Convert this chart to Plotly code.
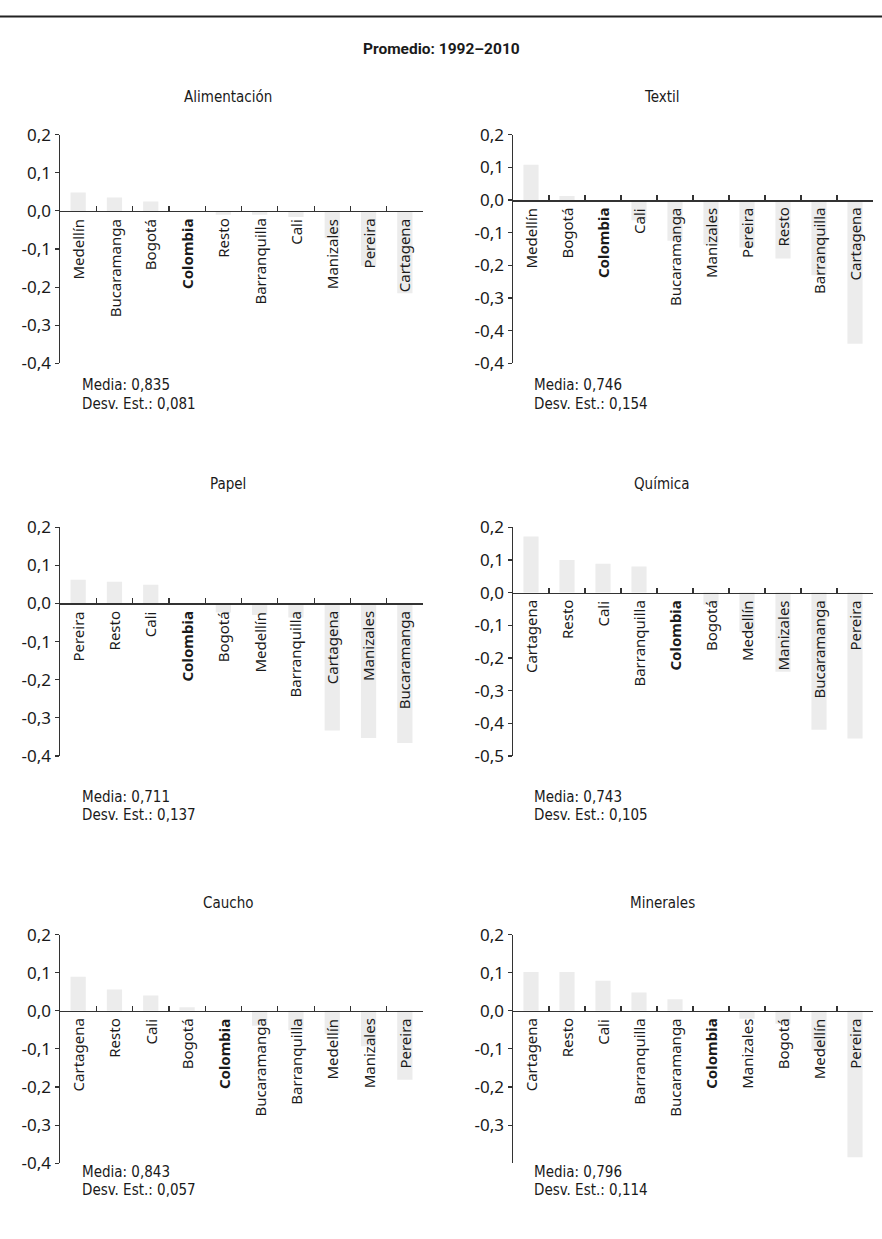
import plotly.graph_objects as go

W, H = 882, 1239

# ---------------- data ----------------
titles = ["Alimentación", "Textil", "Papel", "Química", "Caucho", "Minerales"]

cat_alimentacion = ["Medellín", "Bucaramanga", "Bogotá", "Colombia", "Resto", "Barranquilla", "Cali", "Manizales", "Pereira", "Cartagena"]
val_alimentacion = [0.048, 0.035, 0.025, 0.0, -0.010, -0.010, -0.016, -0.072, -0.144, -0.216]

cat_textil = ["Medellín", "Bogotá", "Colombia", "Cali", "Bucaramanga", "Manizales", "Pereira", "Resto", "Barranquilla", "Cartagena"]
val_textil = [0.108, 0.012, 0.0, -0.062, -0.125, -0.137, -0.145, -0.179, -0.230, -0.440]

cat_papel = ["Pereira", "Resto", "Cali", "Colombia", "Bogotá", "Medellín", "Barranquilla", "Cartagena", "Manizales", "Bucaramanga"]
val_papel = [0.062, 0.057, 0.049, 0.0, -0.024, -0.030, -0.037, -0.333, -0.353, -0.366]

cat_quimica = ["Cartagena", "Resto", "Cali", "Barranquilla", "Colombia", "Bogotá", "Medellín", "Manizales", "Bucaramanga", "Pereira"]
val_quimica = [0.172, 0.100, 0.088, 0.080, 0.0, -0.037, -0.120, -0.242, -0.420, -0.447]

cat_caucho = ["Cartagena", "Resto", "Cali", "Bogotá", "Colombia", "Bucaramanga", "Barranquilla", "Medellín", "Manizales", "Pereira"]
val_caucho = [0.089, 0.056, 0.040, 0.009, 0.0, -0.039, -0.051, -0.060, -0.093, -0.181]

cat_minerales = ["Cartagena", "Resto", "Cali", "Barranquilla", "Bucaramanga", "Colombia", "Manizales", "Bogotá", "Medellín", "Pereira"]
val_minerales = [0.102, 0.102, 0.079, 0.048, 0.030, 0.0, -0.021, -0.034, -0.105, -0.384]

medias = ["0,835", "0,746", "0,711", "0,743", "0,843", "0,796"]
desvs = ["0,081", "0,154", "0,137", "0,105", "0,057", "0,114"]

y_ranges = [[-0.4, 0.2], [-0.5, 0.2], [-0.4, 0.2], [-0.5, 0.2], [-0.4, 0.2], [-0.4, 0.2]]
y_tickvals = [
    [0.2, 0.1, 0.0, -0.1, -0.2, -0.3, -0.4],
    [0.2, 0.1, 0.0, -0.1, -0.2, -0.3, -0.4, -0.5],
    [0.2, 0.1, 0.0, -0.1, -0.2, -0.3, -0.4],
    [0.2, 0.1, 0.0, -0.1, -0.2, -0.3, -0.4, -0.5],
    [0.2, 0.1, 0.0, -0.1, -0.2, -0.3, -0.4],
    [0.2, 0.1, 0.0, -0.1, -0.2, -0.3],
]
y_ticktext = [
    ["0,2", "0,1", "0,0", "-0,1", "-0,2", "-0,3", "-0,4"],
    ["0,2", "0,1", "0,0", "-0,1", "-0,2", "-0,3", "-0,4", "-0,4"],
    ["0,2", "0,1", "0,0", "-0,1", "-0,2", "-0,3", "-0,4"],
    ["0,2", "0,1", "0,0", "-0,1", "-0,2", "-0,3", "-0,4", "-0,5"],
    ["0,2", "0,1", "0,0", "-0,1", "-0,2", "-0,3", "-0,4"],
    ["0,2", "0,1", "0,0", "-0,1", "-0,2", "-0,3"],
]

cats = [cat_alimentacion, cat_textil, cat_papel, cat_quimica, cat_caucho, cat_minerales]
vals = [val_alimentacion, val_textil, val_papel, val_quimica, val_caucho, val_minerales]

# ---------------- layout (pixels) ----------------
FONT_C = "DejaVu Sans Condensed, Roboto, Arial, sans-serif"
FONT_R = "Noto Sans, Open Sans, DejaVu Sans, sans-serif"
FONT_T = "Roboto, DejaVu Sans Condensed, sans-serif"
TXT = "#1a1a1a"
AX = "#333333"
BAR = "#ececec"

col_x = [(60, 423), (513, 873)]
row_y = [(125, 358), (525, 758), (940, 1173)]
title_x = [228, 662]
title_y = [87, 481, 908]
media_x = [80, 532]
media_y = [(380, 399), (800, 818), (1182, 1200)]


def px(x):
    return x / W


def py(y):
    return 1 - y / H


fig = go.Figure()
annotations = []

for i in range(6):
    r, c = divmod(i, 2)
    n = i + 1
    xa = "x" if n == 1 else f"x{n}"
    ya = "y" if n == 1 else f"y{n}"
    xkey = "xaxis" if n == 1 else f"xaxis{n}"
    ykey = "yaxis" if n == 1 else f"yaxis{n}"
    idx = list(range(len(cats[i])))

    fig.add_trace(go.Bar(
        x=idx, y=vals[i], xaxis=xa, yaxis=ya,
        marker=dict(color=BAR, line=dict(width=0)),
        width=0.42, showlegend=False, hoverinfo="skip",
    ))

    y0p, y1p = py(row_y[r][1]), py(row_y[r][0])
    ymin, ymax = y_ranges[i]
    zero_pos = y0p + (0 - ymin) / (ymax - ymin) * (y1p - y0p)

    fig.layout[xkey] = dict(
        domain=[px(col_x[c][0]), px(col_x[c][1])],
        range=[-0.5, len(idx) - 0.5],
        anchor="free", position=zero_pos,
        showline=True, linecolor=AX, linewidth=1.5,
        ticks="inside", ticklen=5, tickwidth=1.2, tickcolor=AX,
        tickmode="array", tickvals=[k + 0.5 for k in idx[:-1]] + [len(idx) - 0.501],
        showticklabels=False, showgrid=False, zeroline=False, fixedrange=True,
    )
    fig.layout[ykey] = dict(
        domain=[y0p, y1p],
        range=[ymin, ymax],
        anchor=xa,
        showline=True, linecolor=AX, linewidth=1.5,
        ticks="outside", ticklen=4, tickwidth=1.2, tickcolor=AX,
        tickmode="array", tickvals=y_tickvals[i], ticktext=y_ticktext[i],
        tickfont=dict(family=FONT_R, size=17, color=TXT),
        showgrid=False, zeroline=False, fixedrange=True,
    )

    # category labels (rotated), just below the zero line
    for k, name in enumerate(cats[i]):
        label = f"<b>{name}</b>" if name == "Colombia" else name
        annotations.append(dict(
            x=k, y=0, xref=xa, yref=ya, text=label, textangle=-90,
            showarrow=False, xanchor="center", yanchor="top", yshift=-6,
            font=dict(family=FONT_R, size=15, color=TXT),
        ))

    # panel title
    annotations.append(dict(
        x=px(title_x[c]), y=py(title_y[r]), xref="paper", yref="paper",
        text=titles[i], showarrow=False, xanchor="center", yanchor="middle",
        font=dict(family=FONT_C, size=15, color=TXT),
    ))
    # statistics
    annotations.append(dict(
        x=px(media_x[c]), y=py(media_y[r][0]), xref="paper", yref="paper",
        text=f"Media: {medias[i]}", showarrow=False, xanchor="left", yanchor="middle",
        font=dict(family=FONT_C, size=15, color=TXT),
    ))
    annotations.append(dict(
        x=px(media_x[c]), y=py(media_y[r][1]), xref="paper", yref="paper",
        text=f"Desv. Est.: {desvs[i]}", showarrow=False, xanchor="left", yanchor="middle",
        font=dict(family=FONT_C, size=15, color=TXT),
    ))

# main title
annotations.append(dict(
    x=0.5, y=py(38), xref="paper", yref="paper",
    text="<b>Promedio: 1992–2010</b>", showarrow=False,
    xanchor="center", yanchor="middle",
    font=dict(family=FONT_T, size=15.5, color=TXT),
))

fig.update_layout(
    width=W, height=H,
    margin=dict(l=0, r=0, t=0, b=0),
    paper_bgcolor="white", plot_bgcolor="white",
    annotations=annotations,
    shapes=[dict(type="line", xref="paper", yref="paper",
                 x0=0, x1=1, y0=py(4.5), y1=py(4.5),
                 line=dict(color="#222222", width=2))],
    bargap=0.5,
)

fig.write_html(
    "out.html",
    config={"displayModeBar": False, "staticPlot": True},
    post_script="document.body.style.margin='0';document.body.style.padding='0';"
                "document.documentElement.style.overflow='hidden';",
)
